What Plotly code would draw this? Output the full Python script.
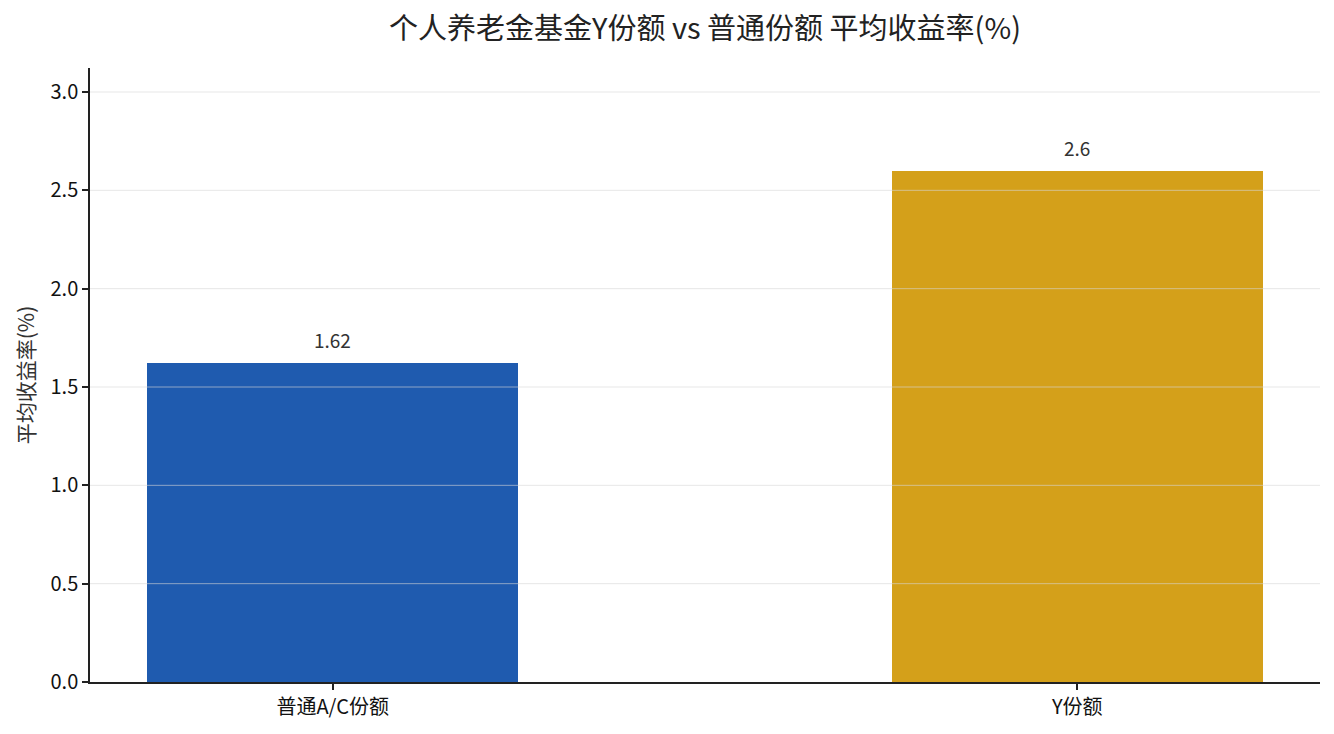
import plotly.graph_objects as go

categories = ["普通A/C份额", "Y份额"]
values = [1.62, 2.6]
value_labels = ["1.62", "2.6"]
bar_colors = ["#1f5baf", "#d4a01a"]
y_ticks = [0, 0.5, 1.0, 1.5, 2.0, 2.5, 3.0]
y_ticktext = ["0.0", "0.5", "1.0", "1.5", "2.0", "2.5", "3.0"]

FONT = "Noto Sans CJK SC"

fig = go.Figure()
fig.add_trace(go.Bar(
    x=[0, 1], y=values, width=0.498,
    marker=dict(color=bar_colors, line=dict(width=0)),
))
for xi, v, lab in zip([0, 1], values, value_labels):
    fig.add_annotation(x=xi, y=v, text=lab, showarrow=False,
                       yanchor="bottom", yshift=8,
                       font=dict(family=FONT, size=19, color="#333333"))
# grid lines drawn above the bars (as in the reference)
for t in y_ticks[1:]:
    fig.add_hline(y=t, line=dict(color="rgba(215,215,215,0.6)", width=1), layer="above")
fig.update_layout(
    width=1334, height=734,
    margin=dict(l=82, r=22, t=60, b=60),
    paper_bgcolor="white", plot_bgcolor="white",
    font=dict(family=FONT, color="#000000"),
    title=dict(text="个人养老金基金Y份额 vs 普通份额 平均收益率(%)",
               xref="paper", x=0.5, xanchor="center", y=0.972, yanchor="middle",
               font=dict(family=FONT, size=29, color="#222222")),
    showlegend=False,
    bargap=0,
)
fig.update_xaxes(
    tickmode="array", tickvals=[0, 1], ticktext=categories,
    range=[-0.326, 1.326], showgrid=False,
    showline=True, linecolor="#222222", linewidth=1.5,
    ticks="outside", ticklen=6, tickcolor="#222222", tickwidth=1.5,
    tickfont=dict(family=FONT, size=20, color="#111111"),
    zeroline=False, layer="above traces",
)
fig.update_yaxes(
    range=[0, 3.122], tickvals=y_ticks, ticktext=y_ticktext,
    showgrid=False,
    showline=True, linecolor="#222222", linewidth=1.5,
    ticks="outside", ticklen=6, tickcolor="#222222", tickwidth=1.5,
    tickfont=dict(family=FONT, size=20, color="#111111"),
    title=dict(text="平均收益率(%)", font=dict(family=FONT, size=21, color="#333333"), standoff=10),
    zeroline=False, layer="above traces",
)
fig.write_html("out.html")
